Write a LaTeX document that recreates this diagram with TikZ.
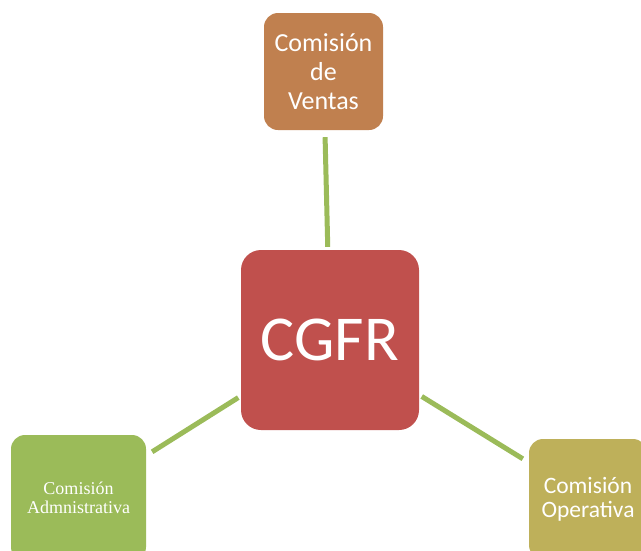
\documentclass[tikz,border=0pt]{standalone}
\usepackage{fontspec}
\setmainfont{Carlito}
\newfontfamily\seriffont{Liberation Serif}
\definecolor{cgfrred}{HTML}{C0504D}
\definecolor{ventasbrown}{HTML}{C0804F}
\definecolor{admgreen}{HTML}{9BBB59}
\definecolor{operolive}{HTML}{BEB05A}
\begin{document}
\begin{tikzpicture}[x=1pt,y=-1pt,
  caja/.style={rectangle, rounded corners=14pt, text=white, align=center, inner sep=0pt},
  enlace/.style={draw=admgreen, line width=5pt, shorten <=3pt, shorten >=7pt}]
\useasboundingbox (0,0) rectangle (641,550);
\clip (0,0) rectangle (641,550);

\node[caja, fill=cgfrred, rounded corners=20pt, minimum width=178pt, minimum height=180pt,
  font=\fontsize{64}{64}\selectfont] (cgfr) at (330,340) {CGFR};
\node[caja, fill=ventasbrown, minimum width=119pt, minimum height=117pt,
  font=\fontsize{26}{29}\selectfont] (ventas) at (323.5,71.5) {Comisión\\de\\Ventas};
\node[caja, fill=admgreen, minimum width=135pt, minimum height=126pt,
  font=\seriffont\fontsize{18}{18.5}\selectfont] (adm) at (78.5,498) {Comisión\\Admnistrativa};
\node[caja, fill=operolive, minimum width=118pt, minimum height=120pt,
  font=\fontsize{23.5}{24}\selectfont] (oper) at (588,499) {Comisión\\Operativa};

% enlaces desde el centro
\draw[enlace] (cgfr) -- (ventas);
\draw[enlace] (cgfr) -- (adm);
\draw[enlace] (cgfr) -- (oper);
\end{tikzpicture}
\end{document}
